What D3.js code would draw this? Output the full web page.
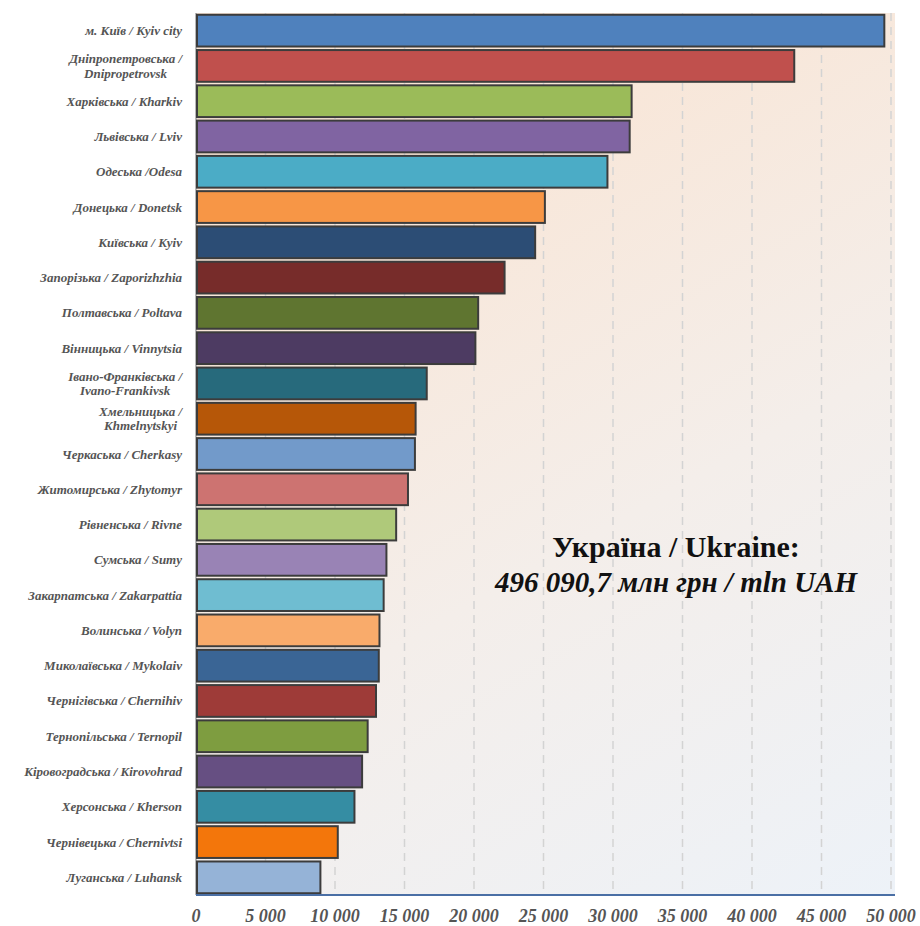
<!DOCTYPE html>
<html>
<head>
<meta charset="utf-8">
<script src="https://cdn.jsdelivr.net/npm/d3@7"></script>
<style>
  body { margin: 0; background: #fff; }
  svg { display: block; }
</style>
</head>
<body>
<svg id="chart"></svg>
<script>
// regions, top to bottom (each label may have 2 lines)
var regions = [
  ["м. Київ / Kyiv city"],
  ["Дніпропетровська /", "Dnipropetrovsk"],
  ["Харківська / Kharkiv"],
  ["Львівська / Lviv"],
  ["Одеська /Odesa"],
  ["Донецька / Donetsk"],
  ["Київська / Kyiv"],
  ["Запорізька / Zaporizhzhia"],
  ["Полтавська / Poltava"],
  ["Вінницька / Vinnytsia"],
  ["Івано-Франківська /", "Ivano-Frankivsk"],
  ["Хмельницька /", "Khmelnytskyi"],
  ["Черкаська / Cherkasy"],
  ["Житомирська / Zhytomyr"],
  ["Рівненська / Rivne"],
  ["Сумська / Sumy"],
  ["Закарпатська / Zakarpattia"],
  ["Волинська / Volyn"],
  ["Миколаївська / Mykolaiv"],
  ["Чернігівська / Chernihiv"],
  ["Тернопільська / Ternopil"],
  ["Кіровоградська / Kirovohrad"],
  ["Херсонська / Kherson"],
  ["Чернівецька / Chernivtsi"],
  ["Луганська / Luhansk"]
]
// mln UAH
var values = [49520, 43040, 31340, 31200, 29600, 25100, 24400, 22200, 20300, 20100,
  16600, 15800, 15750, 15250, 14400, 13700, 13500, 13200, 13150, 12950,
  12350, 11950, 11400, 10200, 8950]
var ticks = [0, 5000, 10000, 15000, 20000, 25000, 30000, 35000, 40000, 45000, 50000]
var totalTitle = "Україна / Ukraine:"
var totalValue = "496 090,7 млн грн / mln UAH"

// excel-ish palette
var palette = ["#4f81bd", "#c0504d", "#9bbb59", "#8064a2", "#4bacc6", "#f79646",
  "#2c4d75", "#772c2a", "#5f7530", "#4d3b62", "#276a7c", "#b65708",
  "#729aca", "#cd7371", "#afc97a", "#9983b5", "#6fbdd1", "#f9ab6b",
  "#3a6595", "#9e3b38", "#7e9d40", "#664f82", "#358da3", "#f3760b", "#95b3d7"]

var width = 920, height = 926
var margin = {top: 13, right: 29, bottom: 31, left: 196}
var serif = "'Liberation Serif', 'Times New Roman', serif"

var svg = d3.select("#chart").attr("width", width).attr("height", height)

var x = d3.scaleLinear().domain([0, 50000]).range([margin.left, width - margin.right])
var y = d3.scaleBand().domain(d3.range(regions.length))
  .range([margin.top, height - margin.bottom]).paddingInner(0.1).paddingOuter(0.05)

//background gradient of plot area
var defs = svg.append("defs")
var grad = defs.append("linearGradient").attr("id", "bg")
  .attr("x1", "0.55").attr("y1", "0").attr("x2", "1").attr("y2", "1")
grad.append("stop").attr("offset", "0").attr("stop-color", "#f9e5d5")
grad.append("stop").attr("offset", "0.5").attr("stop-color", "#f4eeea")
grad.append("stop").attr("offset", "1").attr("stop-color", "#edf2f8")

svg.append("rect")
  .attr("x", margin.left).attr("y", margin.top)
  .attr("width", x(50000) - margin.left + 4)
  .attr("height", height - margin.bottom - margin.top)
  .attr("fill", "url(#bg)")

//grid lines
svg.append("g")
  .selectAll("line")
  .data(ticks.slice(1))
  .enter()
  .append("line")
  .attr("x1", d => x(d)).attr("x2", d => x(d))
  .attr("y1", margin.top).attr("y2", height - margin.bottom)
  .attr("stroke", "#d3d3d3")
  .attr("stroke-width", 1.5)
  .attr("stroke-dasharray", "8,6")

//left axis line
svg.append("line")
  .attr("x1", margin.left).attr("x2", margin.left)
  .attr("y1", margin.top).attr("y2", height - margin.bottom)
  .attr("stroke", "#b8b8b8").attr("stroke-width", 2)

//bars
svg.append("g")
  .selectAll("rect")
  .data(values)
  .enter()
  .append("rect")
  .attr("x", margin.left + 1)
  .attr("y", (d, i) => y(i))
  .attr("width", d => x(d) - margin.left - 1)
  .attr("height", y.bandwidth())
  .attr("fill", (d, i) => palette[i])
  .attr("stroke", "#3c3c3c")
  .attr("stroke-width", 2)

//bottom axis
svg.append("line")
  .attr("x1", margin.left).attr("x2", x(50000) + 4)
  .attr("y1", height - margin.bottom).attr("y2", height - margin.bottom)
  .attr("stroke", "#4a6fa5").attr("stroke-width", 2)

svg.append("g")
  .selectAll("text")
  .data(ticks)
  .enter()
  .append("text")
  .attr("x", d => x(d))
  .attr("y", height - 4)
  .attr("text-anchor", "middle")
  .style("font-family", serif)
  .style("font-weight", "bold")
  .style("font-style", "italic")
  .style("font-size", "18px")
  .attr("fill", "#555")
  .text(d => d3.format(",")(d).replace(/,/g, " "))

//category labels, lines centered with each other, block right aligned
var labelRight = 182
var lab = svg.append("g")
  .style("font-family", serif)
  .style("font-weight", "bold")
  .style("font-style", "italic")
  .style("font-size", "13px")
  .attr("fill", "#555")

regions.forEach(function(lines, i) {
  var cy = y(i) + y.bandwidth() / 2
  var t = lab.append("text").attr("text-anchor", "middle")
  var spans = lines.map(function(s, k) {
    return t.append("tspan").text(s)
      .attr("y", cy + 4.5 + (k - (lines.length - 1) / 2) * 14.5)
  })
  var widths = spans.map(sp => sp.node().getComputedTextLength())
  var maxW = d3.max(widths)
  spans.forEach(sp => sp.attr("x", labelRight - maxW / 2))
})

//total annotation
var cx = 676
svg.append("text")
  .attr("x", cx).attr("y", 557)
  .attr("text-anchor", "middle")
  .style("font-family", serif)
  .style("font-weight", "bold")
  .style("font-size", "30px")
  .attr("fill", "#111")
  .text(totalTitle)
svg.append("text")
  .attr("x", cx).attr("y", 592)
  .attr("text-anchor", "middle")
  .style("font-family", serif)
  .style("font-weight", "bold")
  .style("font-style", "italic")
  .style("font-size", "29px")
  .attr("fill", "#111")
  .text(totalValue)
</script>
</body>
</html>
